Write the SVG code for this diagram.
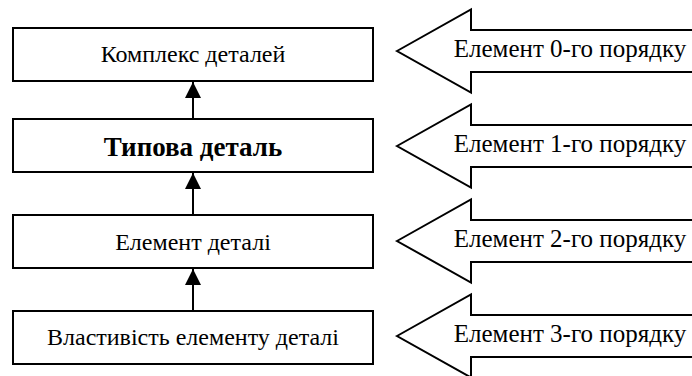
<svg xmlns="http://www.w3.org/2000/svg" width="692" height="376" viewBox="0 0 692 376">
<style>
.box{fill:#fff;stroke:#000;stroke-width:2}
.blk{fill:#fff;stroke:#000;stroke-width:2;stroke-linejoin:miter}
.t{font-family:"Liberation Serif","Times New Roman",serif;font-size:24px;text-anchor:middle;fill:#000}
.b{font-weight:bold;font-size:27px}
.o{font-size:25px}
.con{stroke:#000;stroke-width:2;fill:none}
</style>
<defs>
<marker id="ah" viewBox="0 0 16 16" refX="16" refY="8" markerWidth="16" markerHeight="16" markerUnits="userSpaceOnUse" orient="auto">
<path d="M0,0 L16,8 L0,16 Z" fill="#000"/>
</marker>
</defs>
<rect width="692" height="376" fill="#fff"/>
<g id="connectors">
<line class="con" x1="193" y1="119" x2="193" y2="82" marker-end="url(#ah)"/>
<line class="con" x1="193" y1="215" x2="193" y2="173" marker-end="url(#ah)"/>
<line class="con" x1="193" y1="311" x2="193" y2="269" marker-end="url(#ah)"/>
</g>
<g id="node-complex"><rect class="box" x="13" y="28" width="360" height="53"/><text class="t" x="193" y="62">Комплекс деталей</text></g>
<g id="node-typical"><rect class="box" x="13" y="119" width="360" height="53"/><text class="t b" x="193" y="156">Типова деталь</text></g>
<g id="node-element"><rect class="box" x="13" y="215" width="360" height="53"/><text class="t" x="193" y="250">Елемент деталі</text></g>
<g id="node-property"><rect class="box" x="13" y="311" width="360" height="53"/><text class="t" x="193" y="345">Властивість елементу деталі</text></g>
<g id="order-0"><polygon class="blk" points="397,51 471,9.5 471,30 696,30 696,72 471,72 471,92.5"/><text class="t o" x="570" y="57">Елемент 0-го порядку</text></g>
<g id="order-1"><polygon class="blk" points="397,146 471,104.5 471,125 696,125 696,167 471,167 471,187.5"/><text class="t o" x="570" y="152">Елемент 1-го порядку</text></g>
<g id="order-2"><polygon class="blk" points="397,241 471,199.5 471,220 696,220 696,262 471,262 471,282.5"/><text class="t o" x="570" y="247">Елемент 2-го порядку</text></g>
<g id="order-3"><polygon class="blk" points="397,336 471,294.5 471,315 696,315 696,357 471,357 471,377.5"/><text class="t o" x="570" y="342">Елемент 3-го порядку</text></g>
</svg>
